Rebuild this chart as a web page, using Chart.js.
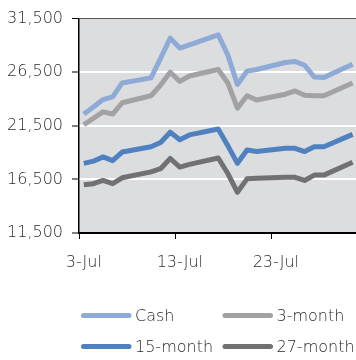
<!DOCTYPE html>
<html>
<head>
<meta charset="utf-8">
<script src="https://cdn.jsdelivr.net/npm/chart.js@4.4.1/dist/chart.umd.min.js"></script>
<style>
  html, body { margin: 0; padding: 0; background: #fff; overflow: hidden; }
  #wrap { width: 356px; height: 360px; position: relative; }
</style>
</head>
<body>
<div id="wrap"><canvas id="c"></canvas></div>
<script>
// Trading days in July
const days = [3, 4, 5, 6, 7, 10, 11, 12, 13, 14, 17, 18, 19, 20, 21, 24, 25, 26, 27, 28, 31];

// Price series
const cash     = [22600, 23250, 23950, 24200, 25500, 25970, 27800, 29680, 28750, 29050, 29980, 28100, 25350, 26600, 26750, 27400, 27500, 27150, 26050, 26000, 27250];
const month3   = [21600, 22200, 22800, 22600, 23650, 24300, 25300, 26500, 25650, 26150, 26750, 25500, 23150, 24300, 23900, 24450, 24750, 24350, 24300, 24300, 25500];
const month15  = [18000, 18200, 18600, 18250, 19050, 19550, 19950, 20900, 20200, 20650, 21200, 19650, 18000, 19250, 19100, 19400, 19400, 19100, 19550, 19550, 20700];
const month27  = [16000, 16100, 16400, 16100, 16650, 17200, 17500, 18450, 17650, 17900, 18500, 17050, 15300, 16550, 16600, 16700, 16700, 16400, 16900, 16900, 18100];

const seriesNames  = ['Cash', '3-month', '15-month', '27-month'];
const seriesColors = ['#8eaad6', '#a2a2a4', '#4f80c0', '#717173'];

// Axis ticks
const yTicks = [11500, 16500, 21500, 26500, 31500];
const xTicks = [3, 13, 23];
const monthName = 'Jul';

const textColor = '#2b2b2b';
const textWeight = '300';

Chart.defaults.font.family = "'DejaVu Sans', sans-serif";
Chart.defaults.font.size = 16;
Chart.defaults.font.weight = textWeight;
Chart.defaults.color = textColor;

// each day's value sits in the middle of that day's interval on the date axis
const toPoints = vals => vals.map((v, i) => ({ x: days[i] + 0.5, y: v }));

const plotBackground = {
  id: 'plotBackground',
  beforeDraw(chart) {
    const { ctx, chartArea: a } = chart;
    ctx.save();
    ctx.fillStyle = '#dcdddf';
    ctx.fillRect(a.left, a.top, a.right - a.left, a.bottom - a.top);
    ctx.restore();
  }
};

// two-column legend under the chart
const gridLegend = {
  id: 'gridLegend',
  afterDraw(chart) {
    const { ctx } = chart;
    const cols = [81, 222.5];
    const rows = [315.5, 346.5];
    ctx.save();
    chart.data.datasets.forEach((ds, i) => {
      const x = cols[i % 2];
      const y = rows[Math.floor(i / 2)];
      ctx.strokeStyle = ds.borderColor;
      ctx.lineWidth = 5;
      ctx.lineCap = 'round';
      ctx.beginPath();
      ctx.moveTo(x + 2.5, y);
      ctx.lineTo(x + 48, y);
      ctx.stroke();
      ctx.fillStyle = textColor;
      ctx.font = textWeight + " 16px 'DejaVu Sans', sans-serif";
      ctx.textBaseline = 'middle';
      ctx.textAlign = 'left';
      ctx.fillText(ds.label, x + 54, y + 1);
    });
    ctx.restore();
  }
};

const seriesData = [cash, month3, month15, month27];

new Chart(document.getElementById('c'), {
  type: 'line',
  data: {
    datasets: seriesData.map((vals, i) => ({
      label: seriesNames[i],
      data: toPoints(vals),
      borderColor: seriesColors[i],
      backgroundColor: seriesColors[i],
      borderWidth: 5,
      borderJoinStyle: 'round',
      pointRadius: 0,
      tension: 0,
      fill: false
    }))
  },
  options: {
    responsive: true,
    maintainAspectRatio: false,
    animation: false,
    layout: { padding: { top: 17, right: 0, bottom: 87, left: 0 } },
    plugins: { legend: { display: false }, tooltip: { enabled: false } },
    scales: {
      x: {
        type: 'linear',
        min: 3,
        max: 31.85,
        afterBuildTicks: s => { s.ticks = xTicks.map(v => ({ value: v })); },
        afterFit: s => { s.height = 40; },
        ticks: {
          padding: 14,
          labelOffset: 4.8,
          maxRotation: 0,
          autoSkip: false,
          callback: v => v + '-' + monthName
        },
        grid: {
          drawOnChartArea: false,
          drawTicks: true,
          tickLength: 6,
          tickColor: '#000',
          tickWidth: 1
        },
        border: { color: '#000', width: 2 }
      },
      y: {
        min: 11500,
        max: 31500,
        afterBuildTicks: s => { s.ticks = yTicks.map(v => ({ value: v })); },
        afterFit: s => { s.width = 79; },
        ticks: {
          padding: 9,
          callback: v => v.toLocaleString('en-US')
        },
        grid: {
          color: c => c.tick.value === 31500 ? '#5a5a5a' : (c.tick.value === 11500 ? 'rgba(0,0,0,0)' : '#ffffff'),
          lineWidth: c => c.tick.value === 31500 ? 1 : 2,
          tickLength: 7,
          tickColor: '#000',
          tickWidth: 1
        },
        border: { color: '#000', width: 1.5 }
      }
    }
  },
  plugins: [plotBackground, gridLegend]
});
</script>
</body>
</html>
